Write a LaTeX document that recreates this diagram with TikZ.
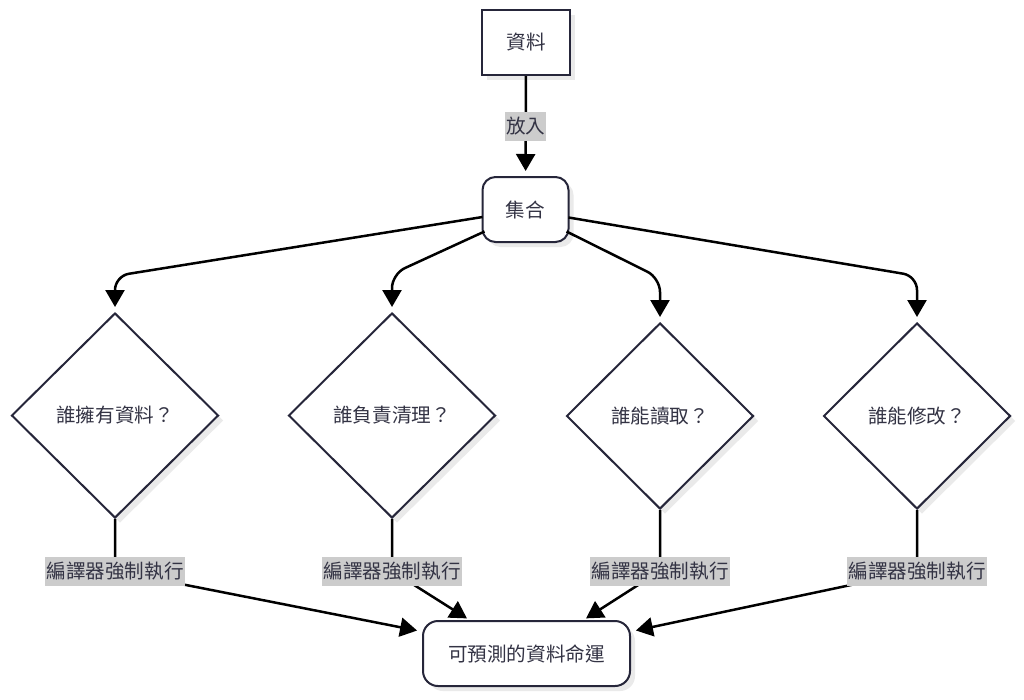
\documentclass[tikz,border=0pt]{standalone}
\usepackage{fontspec}
\setmainfont{Noto Sans CJK TC}
\usetikzlibrary{shapes.geometric,arrows.meta,calc,shadows}
\definecolor{bordc}{RGB}{38,38,58}
\definecolor{txtc}{RGB}{51,51,68}
\definecolor{lblbg}{RGB}{204,204,204}
\definecolor{shadc}{RGB}{234,234,234}
\begin{document}
\begin{tikzpicture}[x=1pt,y=-1pt,
  cjk/.style={font=\fontsize{19.6pt}{23pt}\selectfont},
  base/.style={cjk, draw=bordc, line width=2pt, fill=white, text=txtc, inner sep=0pt,
    drop shadow={shadow xshift=5pt, shadow yshift=-5pt, fill=shadc, opacity=1}},
  boxnode/.style={base, rectangle, minimum width=88pt, minimum height=65pt},
  roundnode/.style={base, rectangle, rounded corners=13pt},
  decision/.style={base, diamond},
  edgelabel/.style={cjk, fill=lblbg, text=txtc, inner xsep=1pt, inner ysep=0pt, minimum height=29pt},
  flow/.style={draw=black, line width=2.5pt, -{Triangle[length=17pt,width=19pt]}},
]
\fill[white] (0,0) rectangle (1024,699);
\useasboundingbox (0,0) rectangle (1024,699);

% nodes
\node[boxnode] (data) at (526,42.5) {資料};
\node[roundnode, minimum width=86pt, minimum height=65pt] (set) at (525.5,209.5) {集合};
\node[decision, minimum width=207pt, minimum height=205pt] (d1) at (115,415.5) {誰擁有資料？};
\node[decision, minimum width=207pt, minimum height=205pt] (d2) at (392,415.5) {誰負責清理？};
\node[decision, minimum width=187pt, minimum height=186pt] (d3) at (660,416) {誰能讀取？};
\node[decision, minimum width=187pt, minimum height=186pt] (d4) at (917,416) {誰能修改？};
\node[roundnode, rounded corners=15pt, minimum width=207pt, minimum height=65pt] (fin) at (526.5,653.5) {可預測的資料命運};

% data -> set
\draw[flow, shorten >=5pt] (data) -- (set) coordinate[midway] (m0);
\node[edgelabel] (l0) at (m0) {放入};

% set -> decisions
\draw[flow, rounded corners=14pt, shorten >=5pt] ($(set.center)+(-43,7.5)$) -- ($(d1.north)+(0,-36)$) -- (d1.north);
\draw[flow, rounded corners=14pt, shorten >=5pt] ($(set.center)+(-41,22)$) -- ($(d2.north)+(0,-38)$) -- (d2.north);
\draw[flow, rounded corners=14pt, shorten >=5pt] ($(set.center)+(41,22)$) -- ($(d3.north)+(0,-44)$) -- (d3.north);
\draw[flow, rounded corners=14pt, shorten >=5pt] ($(set.center)+(43,8)$) -- ($(d4.north)+(0,-46)$) -- (d4.north);

% decisions -> fin
\coordinate (v1) at ($(d1.south)+(0,52)$);
\coordinate (v2) at ($(d2.south)+(0,52)$);
\coordinate (v3) at ($(d3.south)+(0,61)$);
\coordinate (v4) at ($(d4.south)+(0,61)$);
\draw[flow, shorten >=5pt] (d1.south) -- (v1) -- ($(fin.west)+(0,-22)$);
\draw[flow, shorten >=3pt] (d2.south) -- (v2) -- ($(fin.north)+(-57,0)$);
\draw[flow, shorten >=3pt] (d3.south) -- (v3) -- ($(fin.north)+(57,0)$);
\draw[flow, shorten >=5pt] (d4.south) -- (v4) -- ($(fin.east)+(0,-22)$);
\node[edgelabel] (l1) at (v1) {編譯器強制執行};
\node[edgelabel] (l2) at (v2) {編譯器強制執行};
\node[edgelabel] (l3) at (v3) {編譯器強制執行};
\node[edgelabel] (l4) at (v4) {編譯器強制執行};
\end{tikzpicture}
\end{document}
